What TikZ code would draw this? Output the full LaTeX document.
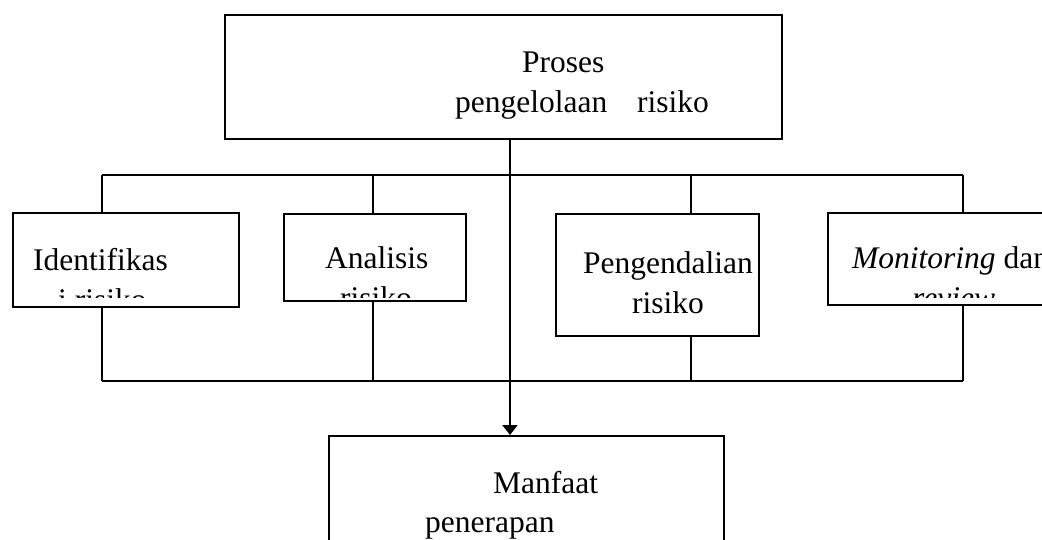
\documentclass[tikz,border=0pt]{standalone}
\usepackage{fontspec}
\setmainfont{Liberation Serif}
\usetikzlibrary{arrows.meta,calc}
\begin{document}
\begin{tikzpicture}[x=1pt,y=-1pt,
  box/.style={draw,line width=1.8pt,rectangle,inner sep=0pt,anchor=north west},
  txt/.style={anchor=base west,inner sep=0pt,font=\fontsize{31.5}{40}\selectfont},
  wire/.style={line width=1.8pt}]
\useasboundingbox (0,0) rectangle (1042,539);
\clip (0,0) rectangle (1042,539);
% boxes
\node[box,minimum width=557pt,minimum height=124pt] (top) at (224,14) {};
\node[box,minimum width=226pt,minimum height=94pt] (id) at (12,212) {};
\node[box,minimum width=182pt,minimum height=87pt] (an) at (283,213) {};
\node[box,minimum width=203pt,minimum height=122pt] (pe) at (555,213) {};
\node[box,minimum width=273pt,minimum height=92pt] (mo) at (827,212) {};
\node[box,minimum width=395pt,minimum height=160pt] (bot) at (328,435) {};
% texts
\node[txt] (t1) at (522,72) {Proses};
\node[txt] (t2) at (455,112) {pengelolaan};
\node[txt] (t3) at (637,112) {risiko};
\begin{scope}
\clip (14,214) rectangle (236,297);
\node[txt] (i1) at (33,270) {Identifikas};
\node[txt] (i2) at (58,310) {i risiko};
\end{scope}
\begin{scope}
\clip (285,215) rectangle (463,297);
\node[txt] (a1) at (325,268) {Analisis};
\node[txt] (a2) at (340,308) {risiko};
\end{scope}
\node[txt] (p1) at (583,273) {Pengendalian};
\node[txt] (p2) at (632,313) {risiko};
\begin{scope}
\clip (829,214) rectangle (1042,297);
\node[txt] (m1) at (852,268) {\textit{Monitoring} dan};
\node[txt] (m2) at (912,308) {\textit{review}};
\end{scope}
\node[txt] (b1) at (493,493) {Manfaat};
\node[txt] (b2) at (425,532) {penerapan};
% connectors
\coordinate (c) at (510,0);
\coordinate (tl) at (102,175);
\coordinate (tr) at (963,175);
\coordinate (bl) at (102,381);
\coordinate (br) at (963,381);
\coordinate (xa) at (373,0);
\coordinate (xp) at (691,0);
\draw[wire] (tl) -- (tr);
\draw[wire] (bl) -- (br);
\draw[wire] (tl) -- (id.north -| tl);
\draw[wire] (tl -| xa) -- (an.north -| xa);
\draw[wire] (tl -| xp) -- (pe.north -| xp);
\draw[wire] (tr) -- (mo.north -| tr);
\draw[wire] (id.south -| bl) -- (bl);
\draw[wire] (an.south -| xa) -- (bl -| xa);
\draw[wire] (pe.south -| xp) -- (bl -| xp);
\draw[wire] (mo.south -| br) -- (br);
\draw[wire,-{Triangle[width=15pt,length=10pt]}] (top.south -| c) -- (bot.north -| c);
\end{tikzpicture}
\end{document}
